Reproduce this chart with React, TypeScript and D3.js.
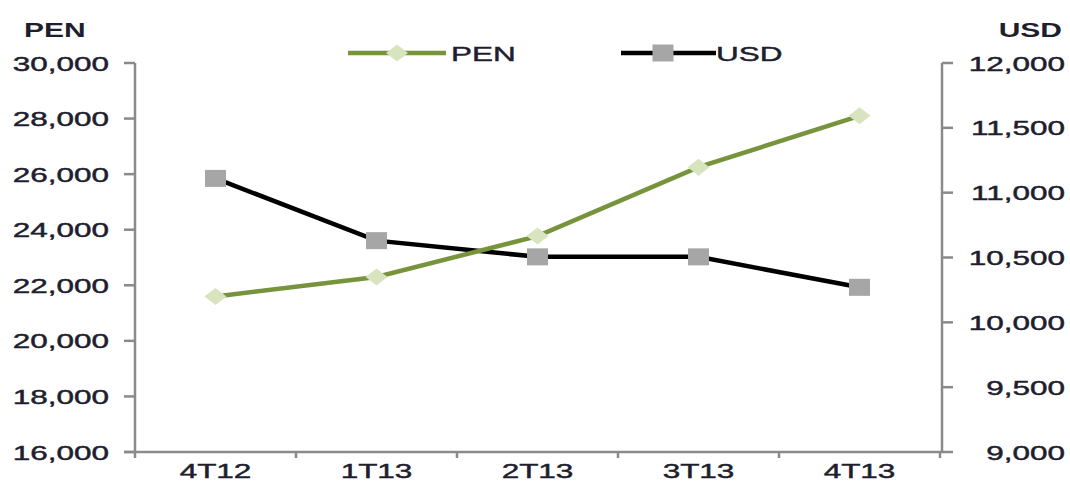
import React from "react";
import * as d3 from "d3";

const categories = ["4T12", "1T13", "2T13", "3T13", "4T13"];
const penValues = [21600, 22300, 23770, 26250, 28100];
const usdValues = [11110, 10630, 10505, 10505, 10270];
const leftTicks = [16000, 18000, 20000, 22000, 24000, 26000, 28000, 30000];
const rightTicks = [9000, 9500, 10000, 10500, 11000, 11500, 12000];

const W = 1070, H = 483;
const X0 = 135, X1 = 940, YT = 63, YB = 452;
const SX = 1.5;
const textColor = "#1e1e2e";
const axisColor = "#8a8a8a";
const green = "#77933C";
const greenFill = "#D7E4BD";
const black = "#000000";
const grayFill = "#A6A6A6";
const font = "'Liberation Sans', Arial, sans-serif";

const fmt = d3.format(",");

function SText({ x, y, anchor, children, weight = "normal", size = 21 }: any) {
  return (
    <g transform={`translate(${x},${y}) scale(${SX},1)`}>
      <text
        textAnchor={anchor}
        fontFamily={font}
        fontSize={size}
        fontWeight={weight}
        fill={textColor}
        stroke={weight === "bold" ? "none" : textColor}
        strokeWidth={0.45}
      >
        {children}
      </text>
    </g>
  );
}

function Diamond({ cx, cy }: any) {
  const w = 11, h = 8.5;
  return (
    <path d={`M${cx - w},${cy} L${cx},${cy - h} L${cx + w},${cy} L${cx},${cy + h} Z`} fill={greenFill} />
  );
}

function Square({ cx, cy }: any) {
  const w = 10.5, h = 8.5;
  return <rect x={cx - w} y={cy - h} width={2 * w} height={2 * h} fill={grayFill} />;
}

export default function App() {
  const x = d3.scaleBand<string>().domain(categories).range([X0, X1]);
  const yL = d3.scaleLinear().domain([16000, 30000]).range([YB, YT]);
  const yR = d3.scaleLinear().domain([9000, 12000]).range([YB, YT]);
  const cx = (c: string) => (x(c) as number) + x.bandwidth() / 2;

  const penLine = d3.line<number>().x((_, i) => cx(categories[i])).y((d) => yL(d))(penValues) as string;
  const usdLine = d3.line<number>().x((_, i) => cx(categories[i])).y((d) => yR(d))(usdValues) as string;

  const boundaries = categories.map((c) => x(c) as number).concat([X1]);

  return (
    <svg width={W} height={H} style={{ position: "absolute", left: 0, top: 0, background: "#fff" }}>
      {/* titles */}
      <SText x={24} y={37} anchor="start" weight="bold" size={20}>PEN</SText>
      <SText x={1062} y={37} anchor="end" weight="bold" size={20}>USD</SText>

      {/* left axis */}
      <line x1={X0} y1={YT} x2={X0} y2={YB} stroke={axisColor} strokeWidth={2.5} />
      {leftTicks.map((t) => (
        <g key={"l" + t}>
          <line x1={X0 - 11} x2={X0} y1={yL(t)} y2={yL(t)} stroke={axisColor} strokeWidth={2.5} />
          <SText x={109} y={yL(t) + 7.5} anchor="end">{fmt(t)}</SText>
        </g>
      ))}

      {/* right axis */}
      <line x1={X1 + 2} y1={YT} x2={X1 + 2} y2={YB} stroke={axisColor} strokeWidth={2.5} />
      {rightTicks.map((t) => (
        <g key={"r" + t}>
          <line x1={X1 + 2} x2={X1 + 13} y1={yR(t)} y2={yR(t)} stroke={axisColor} strokeWidth={2.5} />
          <SText x={1065} y={yR(t) + 7.5} anchor="end">{fmt(t)}</SText>
        </g>
      ))}

      {/* x axis */}
      <line x1={X0 - 11} y1={YB} x2={X1 + 2} y2={YB} stroke={axisColor} strokeWidth={2.5} />
      {boundaries.map((b, i) => (
        <line key={"b" + i} x1={b} x2={b} y1={YB} y2={YB + 6} stroke={axisColor} strokeWidth={2.5} />
      ))}
      {categories.map((c) => (
        <SText key={c} x={cx(c)} y={478} anchor="middle">{c}</SText>
      ))}

      {/* series */}
      <path d={usdLine} fill="none" stroke={black} strokeWidth={4.5} />
      <path d={penLine} fill="none" stroke={green} strokeWidth={4.5} />
      {usdValues.map((v, i) => (
        <Square key={"s" + i} cx={cx(categories[i])} cy={yR(v)} />
      ))}
      {penValues.map((v, i) => (
        <Diamond key={"d" + i} cx={cx(categories[i])} cy={yL(v)} />
      ))}

      {/* legend */}
      <line x1={348} x2={446} y1={53} y2={53} stroke={green} strokeWidth={4.5} />
      <Diamond cx={397} cy={53} />
      <SText x={451} y={61} anchor="start">PEN</SText>
      <line x1={621} x2={716} y1={53} y2={53} stroke={black} strokeWidth={4.5} />
      <Square cx={663} cy={53} />
      <SText x={716} y={61} anchor="start">USD</SText>
    </svg>
  );
}
